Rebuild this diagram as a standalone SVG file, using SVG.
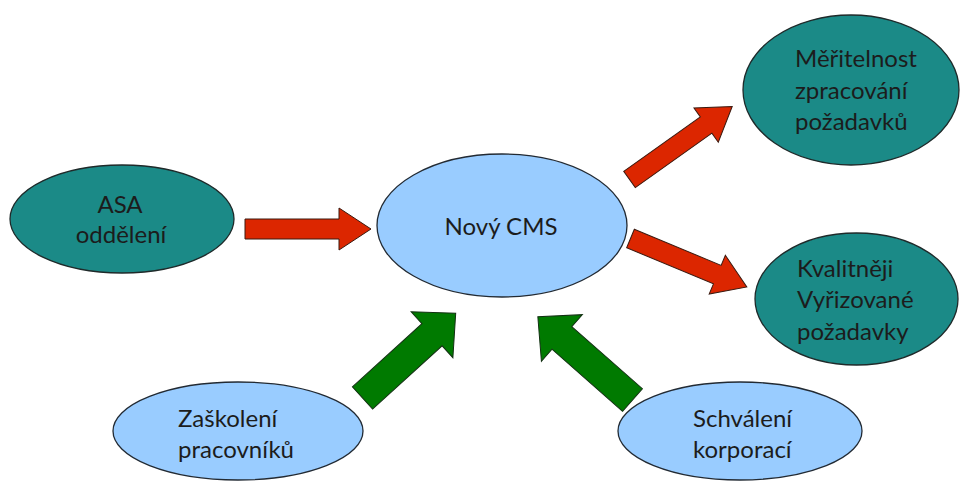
<svg xmlns="http://www.w3.org/2000/svg" xmlns:xlink="http://www.w3.org/1999/xlink" width="960" height="483" viewBox="0 0 960 483">
  <style>
    .teal { fill: #1b8a87; stroke: #1f2a2a; stroke-width: 1.3; }
    .blue { fill: #99ccff; stroke: #222a33; stroke-width: 1.3; }
    .lbl { font-family: Lato, "Open Sans", "Liberation Sans", sans-serif; font-size: 24px; fill: #1c1c1c; }
    .mid { text-anchor: middle; }
    .red { fill: #dc2600; stroke: #3a1a10; stroke-width: 1; }
    .green { fill: #007a00; stroke: #123012; stroke-width: 1; }
  </style>
  <defs>
    <!-- block arrows drawn along +x from the tail at the origin -->
    <path id="arrowThin" d="M0,-10 H94 V-21 L126,0 L94,21 V10 H0 Z"/>
    <path id="arrowWide" d="M0,-15 H94 V-31 L126,0 L94,31 V15 H0 Z"/>
  </defs>
  <rect width="960" height="483" fill="#ffffff"/>

  <g id="connectors">
    <use xlink:href="#arrowThin" class="red" transform="translate(245,229)"/>
    <use xlink:href="#arrowThin" class="red" transform="translate(629.5,179.5) rotate(-35.4)"/>
    <use xlink:href="#arrowThin" class="red" transform="translate(630.5,238.5) rotate(22.6)"/>
    <use xlink:href="#arrowWide" class="green" transform="translate(362.5,398) rotate(-42.3)"/>
    <use xlink:href="#arrowWide" class="green" transform="translate(632.5,400) rotate(-138.7)"/>
  </g>

  <g id="asa">
    <ellipse class="teal" cx="122" cy="219" rx="112" ry="54"/>
    <text class="lbl mid" x="120" y="213">ASA</text>
    <text class="lbl mid" x="121" y="243">oddělení</text>
  </g>

  <g id="cms">
    <ellipse class="blue" cx="502" cy="225.5" rx="125" ry="71.5"/>
    <text class="lbl mid" x="501" y="235">Nový CMS</text>
  </g>

  <g id="meritelnost">
    <ellipse class="teal" cx="851" cy="90" rx="108" ry="75"/>
    <text class="lbl" x="795" y="67">Měřitelnost</text>
    <text class="lbl" x="795" y="99">zpracování</text>
    <text class="lbl" x="795" y="130">požadavků</text>
  </g>

  <g id="kvalitneji">
    <ellipse class="teal" cx="856.5" cy="299" rx="101.5" ry="66"/>
    <text class="lbl" x="797" y="277">Kvalitněji</text>
    <text class="lbl" x="797" y="308">Vyřizované</text>
    <text class="lbl" x="797" y="340">požadavky</text>
  </g>

  <g id="zaskoleni">
    <ellipse class="blue" cx="238" cy="431" rx="125" ry="49"/>
    <text class="lbl" x="178" y="427">Zaškolení</text>
    <text class="lbl" x="178" y="458">pracovníků</text>
  </g>

  <g id="schvaleni">
    <ellipse class="blue" cx="740" cy="431" rx="122" ry="49"/>
    <text class="lbl" x="693" y="427">Schválení</text>
    <text class="lbl" x="693" y="458">korporací</text>
  </g>
</svg>
